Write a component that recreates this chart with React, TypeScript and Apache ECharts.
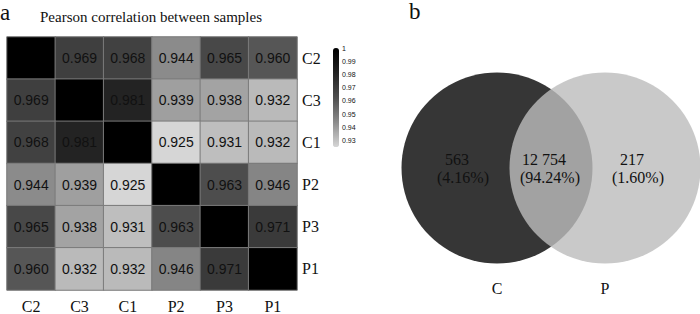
import React, { useEffect, useRef } from 'react';
import * as echarts from 'echarts';

const samples = ['C2', 'C3', 'C1', 'P2', 'P3', 'P1'];
const corrC2 = [1, 0.969, 0.968, 0.944, 0.965, 0.96];
const corrC3 = [0.969, 1, 0.981, 0.939, 0.938, 0.932];
const corrC1 = [0.968, 0.981, 1, 0.925, 0.931, 0.932];
const corrP2 = [0.944, 0.939, 0.925, 1, 0.963, 0.946];
const corrP3 = [0.965, 0.938, 0.931, 0.963, 1, 0.971];
const corrP1 = [0.96, 0.932, 0.932, 0.946, 0.971, 1];
const corrRows = [corrC2, corrC3, corrC1, corrP2, corrP3, corrP1];
const colorbarTicks = [1, 0.99, 0.98, 0.97, 0.96, 0.95, 0.94, 0.93];
const colorMin = 0.925;
const colorMax = 1;

const vennSets = ['C', 'P'];
const vennCounts = ['563', '12 754', '217'];
const vennPercents = ['(4.16%)', '(94.24%)', '(1.60%)'];

const SERIF = '"Liberation Serif", "Times New Roman", serif';
const SANS = '"Liberation Sans", Arial, sans-serif';

export default function App() {
  const ref = useRef<HTMLDivElement>(null);
  useEffect(() => {
    if (!ref.current) return;
    const chart = echarts.init(ref.current, undefined, { renderer: 'svg' });
    const heatData: any[] = [];
    corrRows.forEach((row, r) => row.forEach((v, c) => heatData.push([c, r, v])));

    const vennLabelPos = [
      { x: 445, x2: 437 },
      { x: 522, x2: 520 },
      { x: 620, x2: 612 },
    ];
    const vennTexts: any[] = [];
    vennCounts.forEach((t, i) => {
      vennTexts.push({
        type: 'text', left: vennLabelPos[i].x, top: 151, z: 100,
        style: { text: t, font: `16px ${SERIF}`, fill: '#111' },
      });
      vennTexts.push({
        type: 'text', left: vennLabelPos[i].x2, top: 169, z: 100,
        style: { text: vennPercents[i], font: `16px ${SERIF}`, fill: '#111' },
      });
    });

    chart.setOption({
      animation: false,
      backgroundColor: '#fff',
      title: [
        { text: 'a', left: 0, top: 1, padding: 0, textStyle: { fontFamily: SERIF, fontWeight: 'normal', fontSize: 23, color: '#111' } },
        { text: 'Pearson correlation between samples', left: 40, top: 9, padding: 0, textStyle: { fontFamily: SERIF, fontWeight: 'normal', fontSize: 15, color: '#111' } },
        { text: 'b', left: 409, top: 0, padding: 0, textStyle: { fontFamily: SERIF, fontWeight: 'normal', fontSize: 23, color: '#111' } },
      ],
      grid: [
        { left: 7, top: 37, width: 290, height: 258 },
        { left: 443, top: 73, width: 216, height: 190 },
        { left: 333, top: 48, width: 6, height: 99 },
      ],
      xAxis: [
        {
          type: 'category', gridIndex: 0, data: samples,
          axisLine: { show: false }, axisTick: { show: false },
          axisLabel: { fontFamily: SERIF, fontSize: 16, color: '#111', margin: 8 },
        },
        {
          type: 'category', gridIndex: 1, data: vennSets,
          axisLine: { show: false }, axisTick: { show: false },
          axisLabel: { fontFamily: SERIF, fontSize: 16, color: '#111', margin: 17 },
        },
        { type: 'value', gridIndex: 2, show: false },
      ],
      yAxis: [
        {
          type: 'category', gridIndex: 0, data: samples, inverse: true, position: 'right',
          axisLine: { show: false }, axisTick: { show: false },
          axisLabel: { fontFamily: SERIF, fontSize: 16, color: '#111', margin: 5, padding: [8, 0, 0, 0] },
        },
        { type: 'value', gridIndex: 1, min: -1, max: 1, show: false },
        {
          type: 'value', gridIndex: 2, min: colorMin, max: colorMax, position: 'right',
          axisLine: { show: false }, axisTick: { show: false }, splitLine: { show: false },
          axisLabel: {
            customValues: colorbarTicks, fontFamily: SANS, fontSize: 7, color: '#111', margin: 3,
            formatter: (v: number) => (v === 1 ? '1' : v.toFixed(2)),
          },
        },
      ],
      visualMap: {
        type: 'continuous', seriesIndex: 0, min: colorMin, max: colorMax,
        left: 333, top: 48, itemWidth: 6, itemHeight: 99, padding: 0,
        calculable: false, text: ['', ''], textGap: 0,
        inRange: { color: ['#d6d6d6', '#8c8c8c', '#4e4e4e', '#222222', '#000000'] },
      },
      graphic: vennTexts,
      series: [
        {
          type: 'heatmap', xAxisIndex: 0, yAxisIndex: 0, data: heatData,
          itemStyle: { borderColor: '#7a7a7a', borderWidth: 1 },
          label: {
            show: true, fontFamily: SANS, fontSize: 14, color: '#111',
            formatter: (p: any) => (p.value[2] >= 1 ? '' : p.value[2].toFixed(3)),
          },
          emphasis: { disabled: true },
        },
        {
          type: 'scatter', xAxisIndex: 1, yAxisIndex: 1, symbolSize: 191,
          data: [{ value: [0, 0], itemStyle: { color: '#363636', opacity: 1 } }],
          silent: true,
        },
        {
          type: 'scatter', xAxisIndex: 1, yAxisIndex: 1, symbolSize: 191,
          data: [{ value: [1, 0], itemStyle: { color: '#bcbcbc', opacity: 0.806 } }],
          silent: true,
        },
      ],
    });
    return () => chart.dispose();
  }, []);
  return <div ref={ref} style={{ position: 'fixed', left: 0, top: 0, width: 700, height: 314 }} />;
}
